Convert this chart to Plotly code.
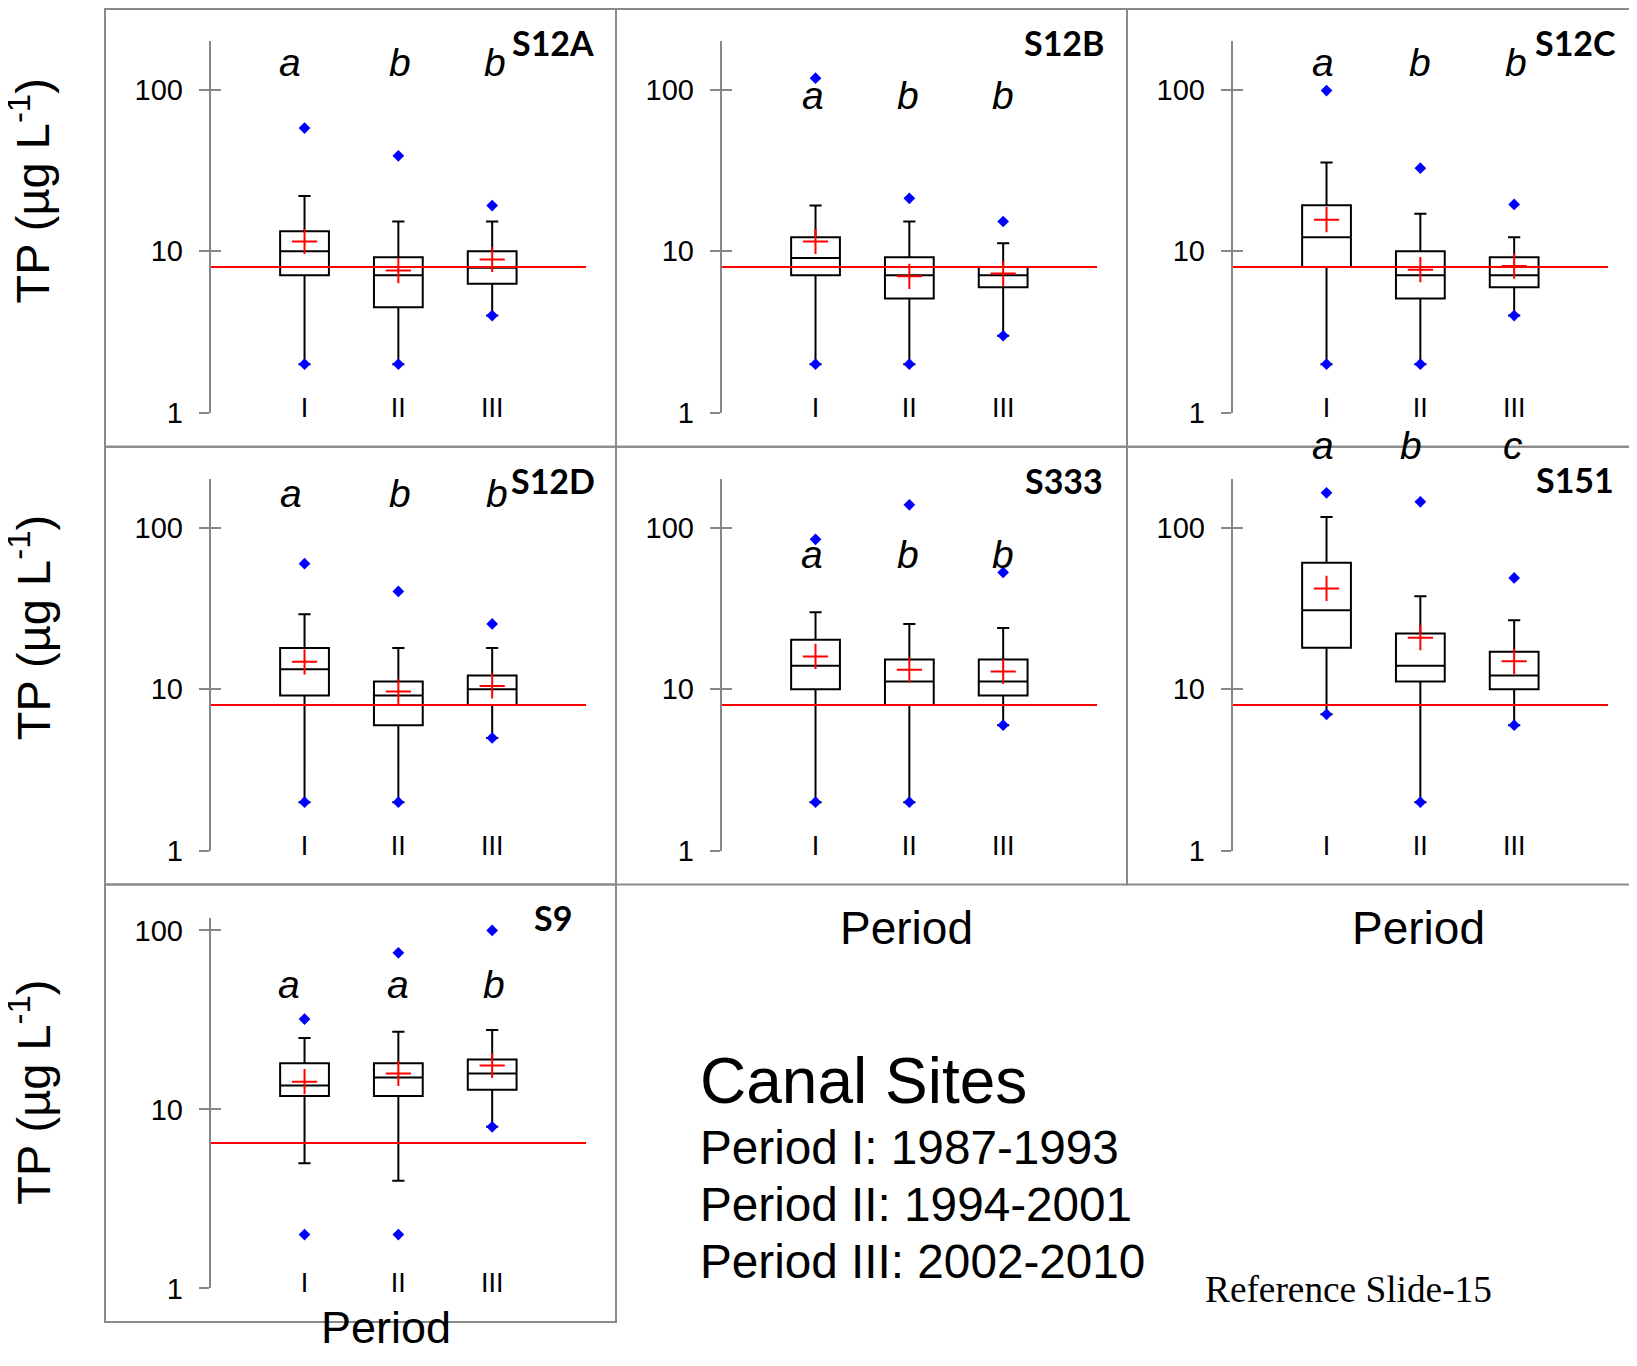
import math
import plotly.graph_objects as go

# ---------------- data ----------------
sites = ["S12A", "S12B", "S12C", "S12D", "S333", "S151", "S9"]
periods = ["I", "II", "III"]
period_pos = [1, 2, 3]

tp_min = [[2, 2, 4], [2, 2, 3], [2, 2, 4], [2, 2, 5], [2, 2, 6], [7, 2, 6], [2, 2, 8]]
tp_low_whisker = [[2, 2, 4], [2, 2, 3], [2, 2, 4], [2, 2, 5], [2, 2, 6], [7, 2, 6], [5, 4, 8]]
tp_q1 = [[7.1, 4.5, 6.3], [7.1, 5.1, 6.0], [8.0, 5.1, 6.0], [9.15, 6.0, 8.0],
         [10, 8.0, 9.15], [18.1, 11.2, 10], [11.9, 11.9, 12.9]]
tp_median = [[10, 7.1, 7.9], [9.1, 7.1, 7.1], [12.2, 7.1, 7.1], [13.3, 9.15, 10],
             [14.0, 11.2, 11.2], [30.9, 14.0, 12.2], [13.6, 15.1, 15.9]]
tp_q3 = [[13.3, 9.2, 10], [12.2, 9.2, 8.0], [19.3, 10, 9.2], [18.0, 11.2, 12.2],
         [20.3, 15.3, 15.3], [60.8, 22.2, 17.1], [18.1, 18.1, 19.0]]
tp_up_whisker = [[22, 15.3, 15.3], [19.2, 15.3, 11.2], [35.5, 17.1, 12.2], [29.2, 18.0, 18.0],
                 [30, 25.4, 24.0], [117, 37.7, 26.8], [25.1, 27.2, 27.8]]
tp_max = [[58, 39, 19.2], [118, 21.3, 15.3], [99, 32.7, 19.5], [60, 40.4, 25.4],
          [85, 139, 53], [165, 145, 49], [32, 75, 100]]
tp_mean = [[11.5, 7.6, 8.9], [11.5, 7.0, 7.3], [15.7, 7.7, 8.1], [14.8, 9.7, 10.5],
           [16.0, 13.2, 12.9], [42.2, 20.9, 14.9], [14.3, 15.9, 17.6]]
tp_threshold = [8, 8, 8, 8, 8, 8, 6.5]
sig_letters = [["a", "b", "b"], ["a", "b", "b"], ["a", "b", "b"], ["a", "b", "b"],
               ["a", "b", "b"], ["a", "b", "c"], ["a", "a", "b"]]
y_max = [200, 200, 200, 200, 200, 200, 118]
y_tickvals = [1, 10, 100]
y_ticktext = ["1", "10", "100"]

# ---------------- layout geometry ----------------
W, H = 1621, 1350
HE = 1335          # effective rendered height of the figure on the page
OX, OY = 8, 8


def fx(px):
    return (px - OX) / W


def fy(py):
    return 1 - (py - OY) / HE


grid = [(0, 0), (0, 1), (0, 2), (1, 0), (1, 1), (1, 2), (2, 0)]
frame_left = [105, 616, 1127]
frame_top = [6, 445, 884]
frame_w, frame_h = 511, 439
plot_top = [38.3, 477.7, 917.3]
plot_bot = [411, 850.3, 1289.3]

letter_xy = [[(290, 60), (400, 60), (495, 60)],
             [(813, 93), (907.7, 93), (1003, 93)],
             [(1322.7, 60), (1420, 60), (1515.7, 60)],
             [(290.7, 492), (400, 492), (496.7, 492)],
             [(812.3, 552.7), (907.7, 552.7), (1003.3, 552.7)],
             [(1322.7, 444), (1411, 444), (1512.7, 444)],
             [(289, 984), (397.7, 984), (494.3, 984)]]
site_label_xy = [(596, 40), (1106, 40), (1618, 40), (597, 479.3), (1105, 479),
                 (1616, 478.3), (574, 917.7)]

GRAY_FRAME = "#8a8a8a"
GRAY_AXIS = "#878787"
FONT = "Liberation Sans, Arial, sans-serif"

fig = go.Figure()
annotations = []
shapes = []
layout = {}

n_sites = len(sites)
for i, site in enumerate(sites):
    n = i + 1
    xa = "x" if n == 1 else f"x{n}"
    ya = "y" if n == 1 else f"y{n}"
    fig.add_trace(go.Box(
        x=period_pos, q1=tp_q1[i], median=tp_median[i], q3=tp_q3[i],
        lowerfence=tp_low_whisker[i], upperfence=tp_up_whisker[i],
        width=0.52, whiskerwidth=0.25, boxpoints=False,
        line=dict(color="black", width=2), fillcolor="rgba(0,0,0,0)",
        xaxis=xa, yaxis=ya, showlegend=False, hoverinfo="skip"))

for i, site in enumerate(sites):
    n = i + 1
    xa = "x" if n == 1 else f"x{n}"
    ya = "y" if n == 1 else f"y{n}"
    # threshold line
    fig.add_trace(go.Scatter(
        x=[0, 4], y=[tp_threshold[i], tp_threshold[i]], mode="lines",
        line=dict(color="#ff0000", width=2), xaxis=xa, yaxis=ya,
        showlegend=False, hoverinfo="skip"))
    # min / max diamonds
    fig.add_trace(go.Scatter(
        x=period_pos + period_pos, y=tp_min[i] + tp_max[i], mode="markers",
        marker=dict(symbol="diamond", size=9, color="#0000ff"),
        xaxis=xa, yaxis=ya, showlegend=False, hoverinfo="skip"))
    # means
    fig.add_trace(go.Scatter(
        x=period_pos, y=tp_mean[i], mode="markers",
        marker=dict(symbol="cross-thin", size=18, color="#ff0000",
                    line=dict(color="#ff0000", width=2)),
        xaxis=xa, yaxis=ya, showlegend=False, hoverinfo="skip"))

for i, site in enumerate(sites):
    n = i + 1
    r, c = grid[i]
    L = frame_left[c]
    xa = "x" if n == 1 else f"x{n}"
    ya_over = f"y{n + n_sites}"
    fig.add_trace(go.Scatter(x=[None], y=[None], xaxis=xa, yaxis=ya_over,
                             showlegend=False, hoverinfo="skip"))

    xkey = "xaxis" if n == 1 else f"xaxis{n}"
    ykey = "yaxis" if n == 1 else f"yaxis{n}"
    yokey = f"yaxis{n + n_sites}"
    yname = "y" if n == 1 else f"y{n}"
    xname = "x" if n == 1 else f"x{n}"
    layout[xkey] = dict(
        domain=[fx(L + 105.7), fx(L + 481)], anchor=yname, range=[0, 4],
        tickmode="array", tickvals=period_pos, ticktext=periods,
        showline=False, showgrid=False, zeroline=False, ticks="",
        tickfont=dict(family=FONT, size=27, color="black"),
        ticklabelstandoff=-24, fixedrange=True)
    yrange = [0, math.log10(y_max[i])]
    layout[ykey] = dict(
        domain=[fy(plot_bot[r]), fy(plot_top[r])], anchor=xname, type="log",
        range=yrange, tickmode="array", tickvals=y_tickvals, ticktext=y_ticktext,
        showline=True, linecolor=GRAY_AXIS, linewidth=2,
        ticks="outside", ticklen=10, tickwidth=2, tickcolor=GRAY_AXIS,
        showgrid=False, zeroline=False,
        tickfont=dict(family=FONT, size=29, color="black"),
        ticklabelstandoff=10, fixedrange=True)
    layout[yokey] = dict(
        overlaying=yname, anchor=xname, type="log", range=yrange,
        tickmode="array", tickvals=y_tickvals, showticklabels=False,
        showline=False, ticks="inside", ticklen=10, tickwidth=2, tickcolor=GRAY_AXIS,
        showgrid=False, zeroline=False, fixedrange=True)

    shapes.append(dict(type="rect", xref="paper", yref="paper",
                       x0=fx(L), x1=fx(min(L + frame_w, 1650)),
                       y0=fy(frame_top[r] + frame_h), y1=fy(frame_top[r]),
                       line=dict(color=GRAY_FRAME, width=2), layer="below"))

    for k in range(3):
        lx, ly = letter_xy[i][k]
        annotations.append(dict(
            x=fx(lx), y=fy(ly), xref="paper", yref="paper", text=sig_letters[i][k],
            showarrow=False, xanchor="center", yanchor="middle",
            font=dict(family=FONT, size=39, color="black", style="italic")))
    sx, sy = site_label_xy[i]
    annotations.append(dict(
        x=fx(sx), y=fy(sy), xref="paper", yref="paper", text=site,
        showarrow=False, xanchor="right", yanchor="middle",
        font=dict(family="Lato, Carlito, sans-serif", size=34, color="black", weight=700)))

# y titles
for cy in [189, 627, 1093]:
    annotations.append(dict(
        x=fx(30), y=fy(cy), xref="paper", yref="paper",
        text="TP (µg L<sup>-1</sup>)", textangle=-90, showarrow=False,
        xanchor="center", yanchor="middle",
        font=dict(family=FONT, size=47, color="black")))

# x titles
for (px, py, fs) in [(906, 928, 46), (1418, 928, 46), (385.5, 1328, 45)]:
    annotations.append(dict(
        x=fx(px), y=fy(py), xref="paper", yref="paper", text="Period",
        showarrow=False, xanchor="center", yanchor="middle",
        font=dict(family=FONT, size=fs, color="black")))

# text block
annotations.append(dict(x=fx(698), y=fy(1081.5), xref="paper", yref="paper",
                        text="Canal Sites", showarrow=False, xanchor="left", yanchor="middle",
                        font=dict(family=FONT, size=64, color="black")))
period_lines = ["Period I: 1987-1993", "Period II: 1994-2001", "Period III: 2002-2010"]
for txt, cy in zip(period_lines, [1147.5, 1205.5, 1262.5]):
    annotations.append(dict(x=fx(698), y=fy(cy), xref="paper", yref="paper",
                            text=txt, showarrow=False, xanchor="left", yanchor="middle",
                            font=dict(family=FONT, size=47.7, color="black")))
annotations.append(dict(x=fx(1203), y=fy(1290.5), xref="paper", yref="paper",
                        text="Reference Slide-15", showarrow=False, xanchor="left",
                        yanchor="middle",
                        font=dict(family="Liberation Serif, Times New Roman, serif",
                                  size=37.3, color="black")))

fig.update_layout(
    width=W, height=H, margin=dict(l=0, r=0, t=0, b=0, pad=0),
    paper_bgcolor="white", plot_bgcolor="rgba(0,0,0,0)",
    showlegend=False, annotations=annotations, shapes=shapes, **layout)

fig.write_html("out.html")
